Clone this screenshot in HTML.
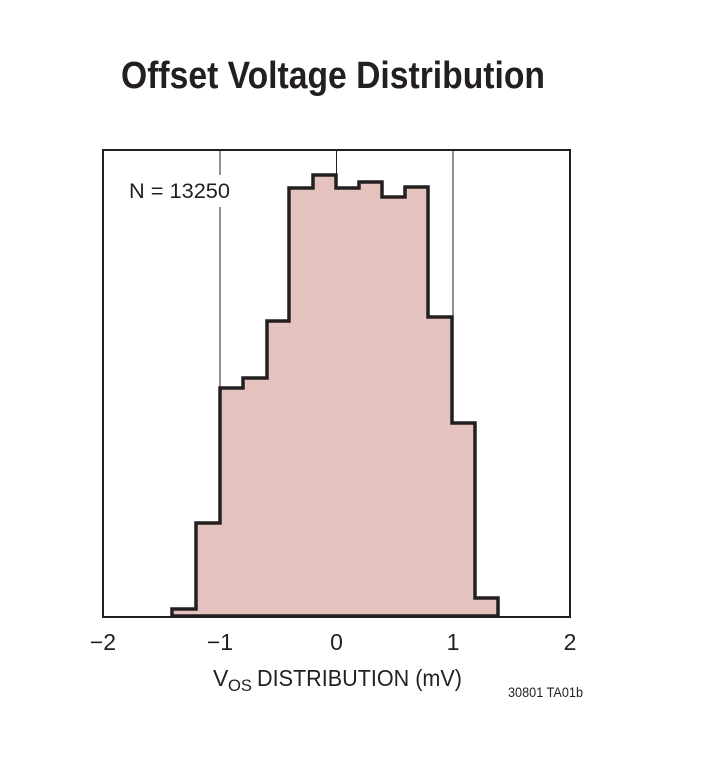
<!DOCTYPE html>
<html><head><meta charset="utf-8"><style>body{margin:0;background:#fff}</style></head>
<body>
<svg width="705" height="775" xmlns="http://www.w3.org/2000/svg" font-family="Liberation Sans, sans-serif">
<rect width="705" height="775" fill="#fff"/>
<text x="121" y="88" font-size="38" font-weight="bold" fill="#231f20" textLength="424" lengthAdjust="spacingAndGlyphs">Offset Voltage Distribution</text>
<rect x="103" y="150" width="467" height="467" fill="#fff" stroke="#231f20" stroke-width="2"/>
<line x1="220" y1="150" x2="220" y2="617" stroke="#231f20" stroke-width="1"/>
<line x1="336.5" y1="150" x2="336.5" y2="617" stroke="#231f20" stroke-width="1"/>
<line x1="453" y1="150" x2="453" y2="617" stroke="#231f20" stroke-width="1"/>
<rect x="125" y="175" width="108" height="32" fill="#fff"/>
<text x="129" y="198" font-size="21" fill="#231f20" textLength="101" lengthAdjust="spacingAndGlyphs">N = 13250</text>
<path d="M172,616 L172,609 L196,609 L196,523 L220,523 L220,388 L243,388 L243,378 L267,378 L267,321 L289,321 L289,188 L313,188 L313,175 L336,175 L336,188 L359,188 L359,182 L382,182 L382,197 L405,197 L405,187 L428,187 L428,317 L452,317 L452,423 L475,423 L475,598 L498,598 L498,616 Z" fill="#e4c2bd" stroke="#231f20" stroke-width="3.5" stroke-linejoin="miter"/>
<g font-size="23" fill="#231f20" text-anchor="middle">
<text x="103" y="650">−2</text>
<text x="220" y="650">−1</text>
<text x="336.5" y="650">0</text>
<text x="453" y="650">1</text>
<text x="570" y="650">2</text>
</g>
<text x="213" y="686" font-size="23" fill="#231f20">V</text>
<text x="228" y="691" font-size="17" fill="#231f20" textLength="24" lengthAdjust="spacingAndGlyphs">OS</text>
<text x="257" y="686" font-size="23" fill="#231f20" textLength="205" lengthAdjust="spacingAndGlyphs">DISTRIBUTION (mV)</text>
<text x="508" y="697" font-size="14" fill="#231f20" textLength="75" lengthAdjust="spacingAndGlyphs">30801 TA01b</text>
</svg>
</body></html>
